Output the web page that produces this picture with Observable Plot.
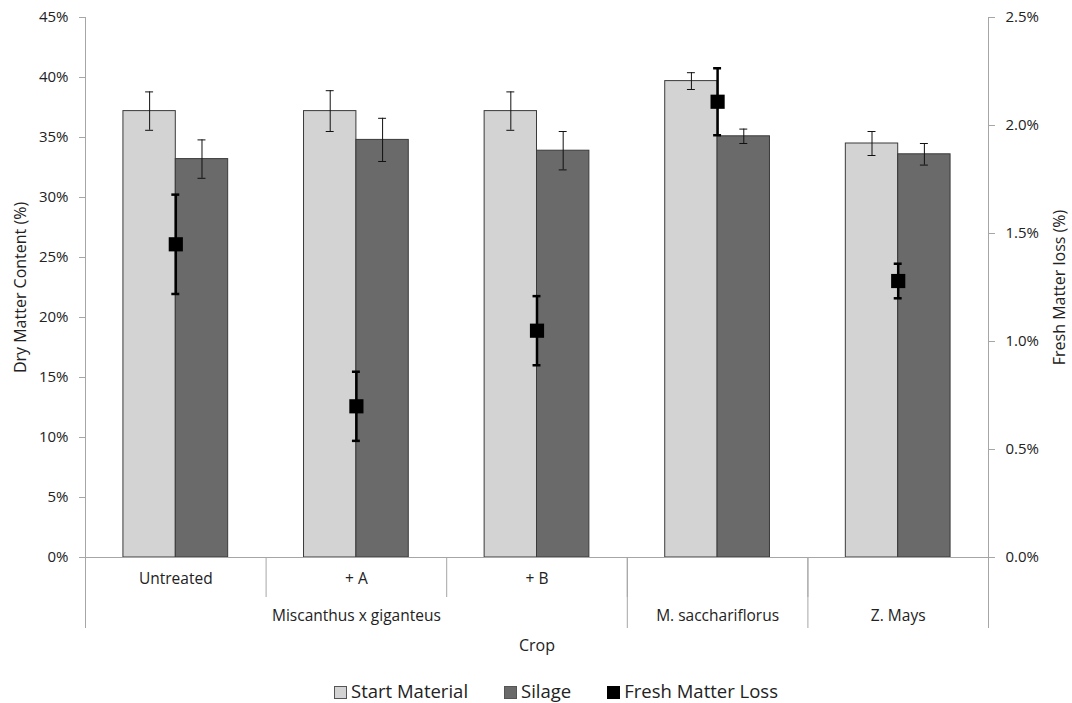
<!DOCTYPE html>
<html><head><meta charset="utf-8">
<script src="https://cdn.jsdelivr.net/npm/d3@7"></script>
<script src="https://cdn.jsdelivr.net/npm/@observablehq/plot@0.6"></script>
<style>
body{margin:0;background:#fff;font-family:"Open Sans",sans-serif;}
#legend{display:flex;justify-content:center;gap:36px;font-size:18.5px;color:#222;margin-left:40px;padding-top:12px;height:26px;align-items:center;white-space:nowrap}
#legend span.sw{display:inline-block;width:13px;height:13px;margin-right:4px;vertical-align:-1px;border:1px solid #555;box-sizing:border-box}
</style></head>
<body><div id="chart"></div>
<div id="legend">
<div><span class="sw" style="background:#d3d3d3"></span>Start Material</div>
<div><span class="sw" style="background:#6a6a6a"></span>Silage</div>
<div><span class="sw" style="background:#000;border-color:#000"></span>Fresh Matter Loss</div>
</div>
<script>
const treatments = ["Untreated", "+ A", "+ B", "", ""];
const crops = ["Miscanthus x giganteus", "M. sacchariflorus", "Z. Mays"];
const cropSpans = [[0, 3], [3, 4], [4, 5]];
const startMaterial = [37.2, 37.2, 37.2, 39.7, 34.5];
const startErr = [1.6, 1.7, 1.6, 0.7, 1.0];
const silage = [33.2, 34.8, 33.9, 35.1, 33.6];
const silageErr = [1.6, 1.8, 1.6, 0.6, 0.9];
const freshMatterLoss = [1.45, 0.70, 1.05, 2.11, 1.28];
const fmlErr = [0.23, 0.16, 0.16, 0.155, 0.08];
const leftTicks = [0, 5, 10, 15, 20, 25, 30, 35, 40, 45];
const rightTicks = [0, 0.5, 1.0, 1.5, 2.0, 2.5];
const ratio = 45 / 2.5;

const bars = [];
treatments.forEach((t, i) => {
  bars.push({i, x1: i + 0.21, x2: i + 0.5, v: startMaterial[i], e: startErr[i], c: "#d3d3d3"});
  bars.push({i, x1: i + 0.5, x2: i + 0.79, v: silage[i], e: silageErr[i], c: "#6a6a6a"});
});
const fml = freshMatterLoss.map((v, i) => ({x: i + 0.5, y: v * ratio, lo: (v - fmlErr[i]) * ratio, hi: (v + fmlErr[i]) * ratio}));
const cap = 0.022;
const axisGray = "#a6a6a6";

const plot = Plot.plot({
  width: 1072, height: 665,
  marginLeft: 85, marginRight: 84, marginTop: 17, marginBottom: 108,
  style: {fontFamily: "Open Sans", fontSize: "15px", color: "#222"},
  x: {type: "linear", domain: [0, 5]},
  y: {domain: [0, 45]},
  marks: [
    Plot.rectY(bars, {x1: "x1", x2: "x2", y: "v", fill: "c", stroke: "#3a3a3a", strokeWidth: 1}),
    Plot.ruleX(bars, {x: d => (d.x1 + d.x2) / 2, y1: d => d.v - d.e, y2: d => d.v + d.e, stroke: "#111", strokeWidth: 1}),
    Plot.ruleY(bars, {y: d => d.v + d.e, x1: d => (d.x1 + d.x2) / 2 - cap, x2: d => (d.x1 + d.x2) / 2 + cap, stroke: "#111", strokeWidth: 1}),
    Plot.ruleY(bars, {y: d => d.v - d.e, x1: d => (d.x1 + d.x2) / 2 - cap, x2: d => (d.x1 + d.x2) / 2 + cap, stroke: "#111", strokeWidth: 1}),
    Plot.ruleX(fml, {x: "x", y1: "lo", y2: "hi", stroke: "#000", strokeWidth: 2.5}),
    Plot.ruleY(fml, {y: "hi", x1: d => d.x - cap, x2: d => d.x + cap, stroke: "#000", strokeWidth: 2.5}),
    Plot.ruleY(fml, {y: "lo", x1: d => d.x - cap, x2: d => d.x + cap, stroke: "#000", strokeWidth: 2.5}),
    Plot.dot(fml, {x: "x", y: "y", symbol: "square", r: 8, fill: "#000", stroke: "none"}),
    Plot.ruleX([0, 5], {stroke: axisGray}),
    Plot.ruleY([0], {stroke: axisGray}),
    Plot.axisY({anchor: "left", ticks: leftTicks, tickFormat: d => d + "%", tickSize: 6, tickPadding: 11, stroke: axisGray, fontSize: 15, label: null}),
    Plot.axisY({anchor: "right", ticks: rightTicks.map(d => d * ratio), tickSize: 6, tickPadding: 11, stroke: axisGray, fontSize: 15,
      tickFormat: d => (d / ratio).toFixed(1) + "%", label: null}),
    Plot.text(["Dry Matter Content (%)"], {frameAnchor: "left", rotate: -90, dx: -65, fontSize: 16, textAnchor: "middle", lineAnchor: "middle", fill: "#222"}),
    Plot.text(["Fresh Matter loss (%)"], {frameAnchor: "right", rotate: -90, dx: 71, fontSize: 16, textAnchor: "middle", lineAnchor: "middle", fill: "#222"}),
    Plot.axisX({ticks: [0, 1, 2, 3, 4, 5], tickSize: 40, stroke: axisGray, tickFormat: () => "", label: null}),
    Plot.axisX({ticks: [0, ...cropSpans.map(s => s[1])], tickSize: 71, stroke: axisGray, tickFormat: () => "", label: null}),
    Plot.axisX({ticks: treatments.map((t, i) => i + 0.5), tickSize: 0, tickPadding: 15, fontSize: 15.5,
      tickFormat: d => treatments[Math.floor(d)], label: null}),
    Plot.axisX({ticks: cropSpans.map(s => (s[0] + s[1]) / 2), tickSize: 0, tickPadding: 52, fontSize: 15.5,
      tickFormat: d => crops[cropSpans.findIndex(s => (s[0] + s[1]) / 2 === d)], label: null}),
    Plot.text(["Crop"], {frameAnchor: "bottom", dy: 88, fontSize: 16, lineAnchor: "middle", fill: "#222"})
  ]
});
document.getElementById("chart").appendChild(plot);
</script>
</body></html>
